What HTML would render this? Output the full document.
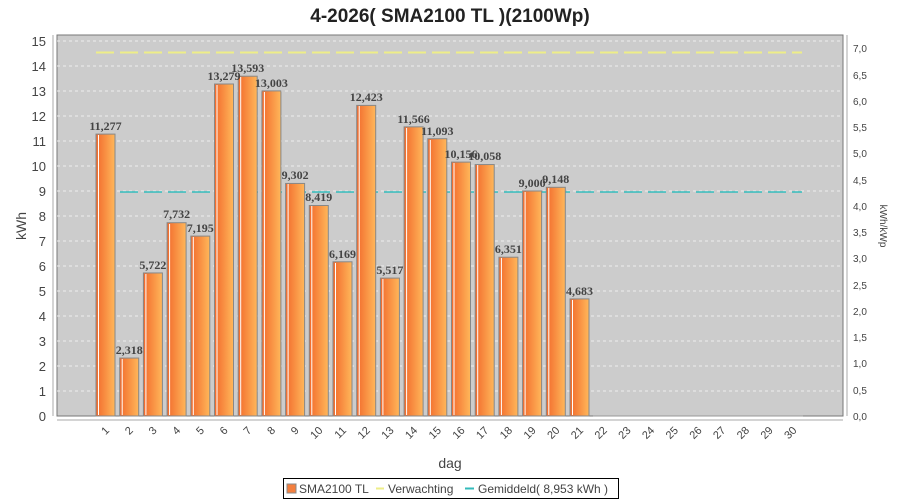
<!DOCTYPE html>
<html><head><meta charset="utf-8"><style>body{margin:0;background:#fff}svg{display:block}</style></head><body>
<svg width="900" height="500" xmlns="http://www.w3.org/2000/svg" font-family="Liberation Sans, sans-serif">
<defs><linearGradient id="g" x1="0" x2="1" y1="0" y2="0"><stop offset="0" stop-color="#f26a2c"/><stop offset="1" stop-color="#ffb75a"/></linearGradient></defs>
<text x="450" y="22" text-anchor="middle" font-size="19" font-weight="bold" fill="#222">4-2026( SMA2100 TL )(2100Wp)</text>
<rect x="57" y="35" width="786" height="381" fill="#cccccc" stroke="#777"/>
<g stroke="#eee" stroke-dasharray="3,3" stroke-width="1">
<line x1="57" x2="843" y1="391" y2="391"/><line x1="57" x2="843" y1="366" y2="366"/><line x1="57" x2="843" y1="341" y2="341"/><line x1="57" x2="843" y1="316" y2="316"/><line x1="57" x2="843" y1="291" y2="291"/><line x1="57" x2="843" y1="266" y2="266"/><line x1="57" x2="843" y1="241" y2="241"/><line x1="57" x2="843" y1="216" y2="216"/><line x1="57" x2="843" y1="191" y2="191"/><line x1="57" x2="843" y1="166" y2="166"/><line x1="57" x2="843" y1="141" y2="141"/><line x1="57" x2="843" y1="116" y2="116"/><line x1="57" x2="843" y1="91" y2="91"/><line x1="57" x2="843" y1="66" y2="66"/><line x1="57" x2="843" y1="41" y2="41"/>
</g>
<g stroke="#aaa"><line x1="53" x2="53" y1="35" y2="416"/><line x1="847" x2="847" y1="35" y2="416"/><line x1="57" x2="843" y1="420" y2="420"/></g>
<g font-size="13" fill="#444" text-anchor="end">
<text x="46" y="421">0</text><text x="46" y="396">1</text><text x="46" y="371">2</text><text x="46" y="346">3</text><text x="46" y="321">4</text><text x="46" y="296">5</text><text x="46" y="271">6</text><text x="46" y="246">7</text><text x="46" y="221">8</text><text x="46" y="196">9</text><text x="46" y="171">10</text><text x="46" y="146">11</text><text x="46" y="121">12</text><text x="46" y="96">13</text><text x="46" y="71">14</text><text x="46" y="46">15</text>
</g>
<g font-size="10" fill="#444">
<text x="853" y="420">0,0</text><text x="853" y="394">0,5</text><text x="853" y="367">1,0</text><text x="853" y="341">1,5</text><text x="853" y="315">2,0</text><text x="853" y="289">2,5</text><text x="853" y="262">3,0</text><text x="853" y="236">3,5</text><text x="853" y="210">4,0</text><text x="853" y="184">4,5</text><text x="853" y="157">5,0</text><text x="853" y="131">5,5</text><text x="853" y="105">6,0</text><text x="853" y="79">6,5</text><text x="853" y="52">7,0</text>
</g>
<line x1="96" x2="802" y1="52.5" y2="52.5" stroke="#eeee88" stroke-width="2" stroke-dasharray="18,6"/>
<line x1="96" x2="802" y1="192" y2="192" stroke="#33bbbb" stroke-width="1.5" stroke-dasharray="18,6"/>
<g stroke="#888" fill="url(#g)">
<rect x="96" y="134.1" width="19" height="281.9"/><rect x="119.7" y="358.05" width="19" height="57.95"/><rect x="143.4" y="272.95" width="19" height="143.05"/><rect x="167.1" y="222.7" width="19" height="193.3"/><rect x="190.8" y="236.1" width="19" height="179.9"/><rect x="214.5" y="84" width="19" height="332"/><rect x="238.2" y="76.2" width="19" height="339.8"/><rect x="261.9" y="90.9" width="19" height="325.1"/><rect x="285.6" y="183.45" width="19" height="232.55"/><rect x="309.3" y="205.5" width="19" height="210.5"/><rect x="333" y="261.8" width="19" height="154.2"/><rect x="356.7" y="105.4" width="19" height="310.6"/><rect x="380.4" y="278.1" width="19" height="137.9"/><rect x="404.1" y="126.85" width="19" height="289.15"/><rect x="427.8" y="138.7" width="19" height="277.3"/><rect x="451.5" y="162.1" width="19" height="253.9"/><rect x="475.2" y="164.55" width="19" height="251.45"/><rect x="498.9" y="257.2" width="19" height="158.8"/><rect x="522.6" y="191" width="19" height="225"/><rect x="546.3" y="187.3" width="19" height="228.7"/><rect x="570" y="298.9" width="19" height="117.1"/>
</g>
<g stroke="#fff" stroke-width="1">
<line x1="98.5" x2="98.5" y1="135" y2="415"/><line x1="122.2" x2="122.2" y1="359" y2="415"/><line x1="145.9" x2="145.9" y1="274" y2="415"/><line x1="169.6" x2="169.6" y1="224" y2="415"/><line x1="193.3" x2="193.3" y1="237" y2="415"/><line x1="217" x2="217" y1="85" y2="415"/><line x1="240.7" x2="240.7" y1="77" y2="415"/><line x1="264.4" x2="264.4" y1="92" y2="415"/><line x1="288.1" x2="288.1" y1="184" y2="415"/><line x1="311.8" x2="311.8" y1="206" y2="415"/><line x1="335.5" x2="335.5" y1="263" y2="415"/><line x1="359.2" x2="359.2" y1="106" y2="415"/><line x1="382.9" x2="382.9" y1="279" y2="415"/><line x1="406.6" x2="406.6" y1="128" y2="415"/><line x1="430.3" x2="430.3" y1="140" y2="415"/><line x1="454" x2="454" y1="163" y2="415"/><line x1="477.7" x2="477.7" y1="165" y2="415"/><line x1="501.4" x2="501.4" y1="258" y2="415"/><line x1="525.1" x2="525.1" y1="192" y2="415"/><line x1="548.8" x2="548.8" y1="188" y2="415"/><line x1="572.5" x2="572.5" y1="300" y2="415"/>
</g>
<g font-family="Liberation Serif, serif" font-size="12" font-weight="bold" fill="#444" text-anchor="middle">
<text x="105.5" y="130">11,277</text><text x="129.2" y="354">2,318</text><text x="152.9" y="269">5,722</text><text x="176.6" y="218">7,732</text><text x="200.3" y="232">7,195</text><text x="224" y="80">13,279</text><text x="247.7" y="72">13,593</text><text x="271.4" y="87">13,003</text><text x="295.1" y="179">9,302</text><text x="318.8" y="201">8,419</text><text x="342.5" y="258">6,169</text><text x="366.2" y="101">12,423</text><text x="389.9" y="274">5,517</text><text x="413.6" y="123">11,566</text><text x="437.3" y="135">11,093</text><text x="461" y="158">10,156</text><text x="484.7" y="160">10,058</text><text x="508.4" y="253">6,351</text><text x="532.1" y="187">9,000</text><text x="555.8" y="183">9,148</text><text x="579.5" y="295">4,683</text>
</g>
<g stroke="#999"><line x1="593" x2="803" y1="416" y2="416"/></g>
<g font-size="11" fill="#444" text-anchor="end">
<text transform="translate(110,431) rotate(-45)">1</text><text transform="translate(133.7,431) rotate(-45)">2</text><text transform="translate(157.4,431) rotate(-45)">3</text><text transform="translate(181.1,431) rotate(-45)">4</text><text transform="translate(204.8,431) rotate(-45)">5</text><text transform="translate(228.5,431) rotate(-45)">6</text><text transform="translate(252.2,431) rotate(-45)">7</text><text transform="translate(275.9,431) rotate(-45)">8</text><text transform="translate(299.6,431) rotate(-45)">9</text><text transform="translate(323.3,431) rotate(-45)">10</text><text transform="translate(347,431) rotate(-45)">11</text><text transform="translate(370.7,431) rotate(-45)">12</text><text transform="translate(394.4,431) rotate(-45)">13</text><text transform="translate(418.1,431) rotate(-45)">14</text><text transform="translate(441.8,431) rotate(-45)">15</text><text transform="translate(465.5,431) rotate(-45)">16</text><text transform="translate(489.2,431) rotate(-45)">17</text><text transform="translate(512.9,431) rotate(-45)">18</text><text transform="translate(536.6,431) rotate(-45)">19</text><text transform="translate(560.3,431) rotate(-45)">20</text><text transform="translate(584,431) rotate(-45)">21</text><text transform="translate(607.7,431) rotate(-45)">22</text><text transform="translate(631.4,431) rotate(-45)">23</text><text transform="translate(655.1,431) rotate(-45)">24</text><text transform="translate(678.8,431) rotate(-45)">25</text><text transform="translate(702.5,431) rotate(-45)">26</text><text transform="translate(726.2,431) rotate(-45)">27</text><text transform="translate(749.9,431) rotate(-45)">28</text><text transform="translate(773.6,431) rotate(-45)">29</text><text transform="translate(797.3,431) rotate(-45)">30</text>
</g>
<text x="450" y="468" text-anchor="middle" font-size="14" fill="#444">dag</text>
<text transform="translate(26,226) rotate(-90)" text-anchor="middle" font-size="14" fill="#444">kWh</text>
<text transform="translate(880,226) rotate(90)" text-anchor="middle" font-size="10" fill="#444">kWh/kWp</text>
<rect x="283.5" y="478.5" width="335" height="20" fill="#fff" stroke="#000"/>
<rect x="287" y="484" width="9" height="9" fill="#f47f3e" stroke="#888"/>
<g font-size="12" fill="#444">
<text x="299" y="493">SMA2100 TL</text>
<line x1="376" x2="384" y1="488.5" y2="488.5" stroke="#eeee88" stroke-width="2"/>
<text x="388" y="493">Verwachting</text>
<line x1="465" x2="474" y1="488.5" y2="488.5" stroke="#33bbbb" stroke-width="2"/>
<text x="478" y="493">Gemiddeld( 8,953 kWh )</text>
</g>
</svg>
</body></html>
